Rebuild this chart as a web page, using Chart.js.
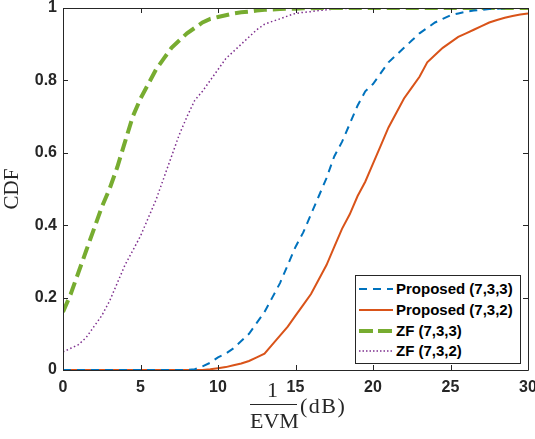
<!DOCTYPE html>
<html><head><meta charset="utf-8">
<script src="https://cdn.jsdelivr.net/npm/chart.js@4.4.1/dist/chart.umd.min.js"></script>
<style>
html,body{margin:0;padding:0;background:#fff;}
#wrap{position:relative;width:535px;height:439px;}
canvas{position:absolute;left:0;top:0;}
.xt{position:absolute;font-family:"Liberation Serif",serif;color:#262626;font-size:22px;line-height:1;}
#legend{position:absolute;left:355px;top:275px;width:166px;height:89px;border:1px solid #262626;background:#fff;box-sizing:border-box;font-family:"Liberation Sans",Arial,sans-serif;font-weight:bold;font-size:15px;color:#000;}
.row{position:absolute;left:0;height:20px;width:100%;}
.row svg{position:absolute;left:3px;top:2px;}
.row span{position:absolute;left:40px;top:1px;white-space:nowrap;}
</style></head><body>
<div id="wrap">
<canvas id="c" width="535" height="439"></canvas>
<div class="xt" style="left:267px;top:379px;">1</div>
<div style="position:absolute;left:250px;top:404px;width:47px;height:1px;background:#262626;"></div>
<div class="xt" style="left:250px;top:410px;">EVM</div>
<div class="xt" style="left:300px;top:395px;letter-spacing:1.5px;">(dB)</div>
<div id="legend">
 <div class="row" style="top:3px;"><svg width="36" height="16"><line x1="0" y1="8" x2="34" y2="8" stroke="#0072BD" stroke-width="2" stroke-dasharray="8,6"/></svg><span>Proposed (7,3,3)</span></div>
 <div class="row" style="top:24px;"><svg width="36" height="16"><line x1="0" y1="8" x2="34" y2="8" stroke="#D95319" stroke-width="2"/></svg><span>Proposed (7,3,2)</span></div>
 <div class="row" style="top:45px;"><svg width="36" height="16"><line x1="0" y1="8" x2="34" y2="8" stroke="#77AC30" stroke-width="4" stroke-dasharray="14,5"/></svg><span>ZF (7,3,3)</span></div>
 <div class="row" style="top:65px;"><svg width="36" height="16"><line x1="0" y1="8" x2="34" y2="8" stroke="#7E2F8E" stroke-width="1.5" stroke-dasharray="1.5,2"/></svg><span>ZF (7,3,2)</span></div>
</div>
</div>
<script>
// x grid in dB (step 0.5)
const xValues = [0,0.5,1,1.5,2,2.5,3,3.5,4,4.5,5,5.5,6,6.5,7,7.5,8,8.5,9,9.5,10,10.5,11,11.5,12,12.5,13,13.5,14,14.5,15,15.5,16,16.5,17,17.5,18,18.5,19,19.5,20,20.5,21,21.5,22,22.5,23,23.5,24,24.5,25,25.5,26,26.5,27,27.5,28,28.5,29,29.5,30];
const proposed733 = [0,0,0,0,0,0,0,0,0,0,0,0,0,0,0,0,0,0.002,0.01,0.02,0.035,0.045,0.06,0.08,0.10,0.13,0.16,0.20,0.24,0.29,0.34,0.38,0.43,0.48,0.53,0.59,0.63,0.68,0.73,0.77,0.79,0.82,0.85,0.87,0.89,0.91,0.93,0.945,0.96,0.97,0.98,0.985,0.99,0.993,0.995,0.997,0.998,0.999,1,1,1];
const proposed732 = [0,0,0,0,0,0,0,0,0,0,0,0,0,0,0,0,0,0,0,0.002,0.005,0.008,0.013,0.018,0.025,0.035,0.045,0.07,0.095,0.12,0.15,0.18,0.21,0.25,0.29,0.34,0.39,0.43,0.48,0.52,0.57,0.62,0.67,0.71,0.75,0.78,0.81,0.85,0.87,0.89,0.905,0.92,0.93,0.94,0.95,0.96,0.967,0.973,0.978,0.982,0.985];
const zf733 = [0.16,0.21,0.27,0.33,0.39,0.45,0.50,0.56,0.63,0.70,0.75,0.79,0.83,0.86,0.89,0.91,0.93,0.945,0.96,0.97,0.975,0.98,0.985,0.988,0.99,0.993,0.995,0.996,0.997,0.998,0.998,0.999,0.999,1,1,1,1,1,1,1,1,1,1,1,1,1,1,1,1,1,1,1,1,1,1,1,1,1,1,1,1];
const zf732 = [0.05,0.06,0.07,0.09,0.12,0.15,0.19,0.24,0.29,0.33,0.37,0.42,0.47,0.53,0.59,0.65,0.70,0.745,0.77,0.80,0.83,0.86,0.88,0.90,0.92,0.94,0.955,0.963,0.97,0.978,0.985,0.988,0.99,0.993,0.995,0.997,0.998,0.999,0.999,1,1,1,1,1,1,1,1,1,1,1,1,1,1,1,1,1,1,1,1,1,1];
const seriesNames = ["Proposed (7,3,3)","Proposed (7,3,2)","ZF (7,3,3)","ZF (7,3,2)"];
const xTicks = [0,5,10,15,20,25,30];
const yTicks = [0,0.2,0.4,0.6,0.8,1];

const pts = arr => arr.map((v,i)=>({x:xValues[i], y:v}));
const axisColor = '#262626';

const boxPlugin = {
  id:'box',
  afterDraw(chart){
    const {ctx, chartArea:a, scales:{x,y}} = chart;
    ctx.save();
    ctx.strokeStyle = axisColor; ctx.lineWidth = 1;
    ctx.beginPath();
    ctx.rect(Math.round(a.left)+0.5, Math.round(a.top)+0.5, Math.round(a.right-a.left), Math.round(a.bottom-a.top));
    ctx.stroke();
    ctx.beginPath();
    xTicks.forEach(t=>{const px=Math.round(x.getPixelForValue(t))+0.5;
      ctx.moveTo(px,a.bottom); ctx.lineTo(px,a.bottom-5);
      ctx.moveTo(px,a.top); ctx.lineTo(px,a.top+5);});
    yTicks.forEach(t=>{const py=Math.round(y.getPixelForValue(t))+0.5;
      ctx.moveTo(a.left,py); ctx.lineTo(a.left+5,py);
      ctx.moveTo(a.right,py); ctx.lineTo(a.right-5,py);});
    ctx.stroke();
    ctx.restore();
  }
};

new Chart(document.getElementById('c'), {
  type:'line',
  data:{datasets:[
    {label:seriesNames[0], data:pts(proposed733), borderColor:'#0072BD', borderWidth:2, borderDash:[8,6], pointRadius:0, fill:false, tension:0},
    {label:seriesNames[1], data:pts(proposed732), borderColor:'#D95319', borderWidth:2, pointRadius:0, fill:false, tension:0},
    {label:seriesNames[2], data:pts(zf733), borderColor:'#77AC30', borderWidth:4, borderDash:[13,6], pointRadius:0, fill:false, tension:0},
    {label:seriesNames[3], data:pts(zf732), borderColor:'#7E2F8E', borderWidth:1.5, borderDash:[1.5,2.5], pointRadius:0, fill:false, tension:0}
  ]},
  options:{
    responsive:false, animation:false,
    layout:{padding:{top:8,right:7,left:0,bottom:0}},
    plugins:{legend:{display:false}, tooltip:{enabled:false}},
    scales:{
      x:{type:'linear', min:0, max:30,
        afterBuildTicks(s){ s.ticks = xTicks.map(v=>({value:v})); },
        afterFit(s){ s.height = 69; s.paddingLeft = 0; s.paddingRight = 0; },
        grid:{display:false, drawTicks:false},
        border:{display:false},
        ticks:{color:'#262626', padding:8, font:{family:'"Liberation Sans", Arial, sans-serif', size:16, weight:'bold'}, maxRotation:0}
      },
      y:{type:'linear', min:0, max:1,
        afterBuildTicks(s){ s.ticks = yTicks.map(v=>({value:v})); },
        afterFit(s){ s.width = 63; s.paddingTop = 0; s.paddingBottom = 0; },
        grid:{display:false, drawTicks:false},
        border:{display:false},
        title:{display:true, text:'CDF', color:'#262626', padding:{top:0,bottom:0}, font:{family:'"Liberation Serif", serif', size:21}},
        ticks:{color:'#262626', padding:6, font:{family:'"Liberation Sans", Arial, sans-serif', size:16, weight:'bold'}, callback:v=>String(v)}
      }
    }
  },
  plugins:[boxPlugin]
});
</script>
</body></html>
